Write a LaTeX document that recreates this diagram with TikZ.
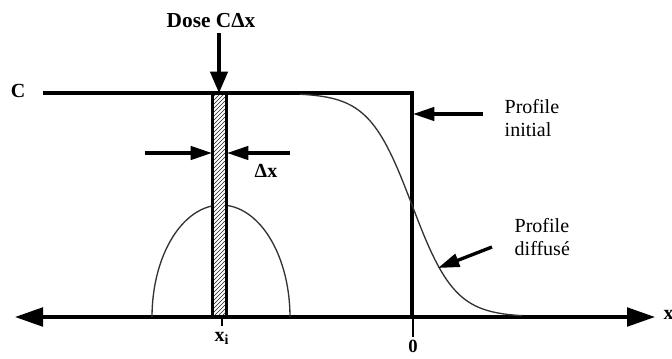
\documentclass[tikz,border=0pt]{standalone}
\usepackage{fontspec}
\setmainfont{Liberation Serif}
\usetikzlibrary{arrows.meta,patterns}

\begin{document}
\begin{tikzpicture}[x=0.75pt, y=-0.75pt, every node/.style={align=center},
    thickline/.style={line width=2.5pt},
    thinline/.style={line width=1pt, black!80},
    axistip/.style={{Triangle[length=21pt,width=14pt]}-{Triangle[length=21pt,width=14pt]}},
    dosetip/.style={-{Triangle[length=16pt,width=13pt]}},
    smalltip/.style={-{Triangle[length=16pt,width=10pt]}},
    bold/.style={font=\bfseries\fontsize{15}{17}\selectfont},
    plain/.style={font=\fontsize{15}{17}\selectfont, align=left, anchor=west}]
        \useasboundingbox (0,0) rectangle (672,358);

        % Axes
        \coordinate (xleft) at (15,317);
        \coordinate (xright) at (655,317);
        \draw[thickline, axistip] (xleft) -- (xright);
        \node[bold, anchor=west] (xlab) at (659,315) {x};

        % Initial profile
        \coordinate (cstart) at (43,93);
        \coordinate (corner) at (412,93);
        \coordinate (origin) at (412,317);
        \draw[thickline] (cstart) -- (corner) -- (origin);
        \node[bold] (clab) at (18,91) {C};

        % Diffused profiles
        \draw[thinline, domain=300:522, samples=90] plot (\x, {93+112*(1+tanh((\x-412)/43))});
        \draw[thinline, domain=0:180, samples=60] plot ({221+69*cos(\x)}, {317-112*sin(\x)});

        % Slice
        \draw[line width=2.4pt, preaction={fill=white}, pattern=north east lines, pattern color=black!85]
            (212.5,93) rectangle (226.5,317);
        \coordinate (slicetop) at (219,93);
        \coordinate (sliceleft) at (212,153);
        \coordinate (sliceright) at (227,153);
        \coordinate (dxleft) at (145,153);
        \coordinate (dxright) at (290,153);
        \draw[thickline, smalltip] (dxleft) -- (sliceleft);
        \draw[thickline, smalltip] (dxright) -- (sliceright);
        \node[bold] (dxlab) at (266,171) {Δx};

        % Dose
        \node[bold, font=\bfseries\fontsize{16}{18}\selectfont] (dose) at (211,21) {Dose CΔx};
        \draw[thickline, dosetip] (dose.south -| slicetop) -- (slicetop);

        % Ticks
        \coordinate (xitick) at (222,326);
        \coordinate (zerotick) at (413,337);
        \draw[line width=1.8pt] (xitick |- xleft) -- (xitick);
        \draw[line width=0.8pt] (zerotick |- xleft) -- (zerotick);
        \node[bold] (xilab) at (222,338) {x\textsubscript{i}};
        \node[bold, font=\bfseries\fontsize{14}{16}\selectfont] (zerolab) at (413,346) {0};

        % Labels
        \node[plain] (initlab) at (500,118) {Profile\\initial};
        \node[plain] (difflab) at (510,237) {Profile\\diffusé};
        \coordinate (initfrom) at (483,114);
        \coordinate (initto) at (413,114);
        \coordinate (difffrom) at (492,247);
        \coordinate (diffto) at (438,268);
        \draw[thickline, smalltip] (initfrom) -- (initto);
        \draw[thickline, smalltip] (difffrom) -- (diffto);

    \end{tikzpicture}
\end{document}
